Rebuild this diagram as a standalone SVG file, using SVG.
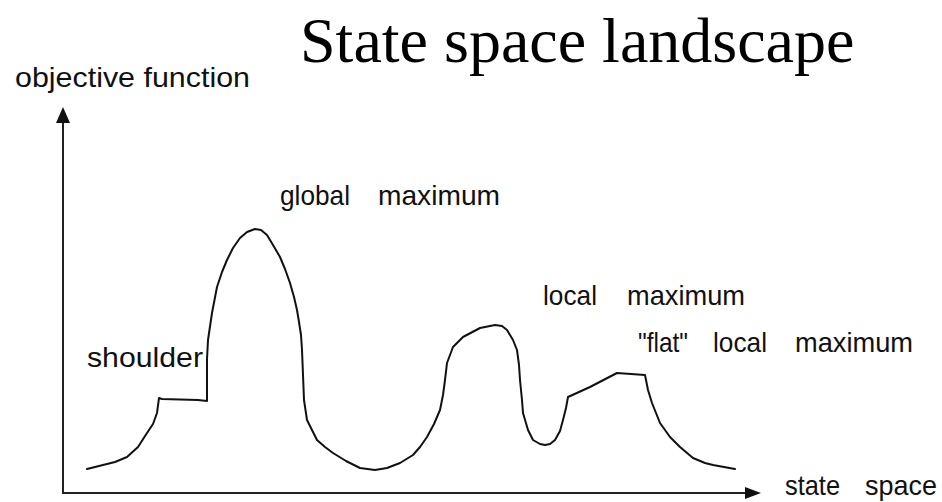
<svg xmlns="http://www.w3.org/2000/svg" width="942" height="502" viewBox="0 0 942 502">
<style>
.lbl{font-family:"Liberation Sans",Arial,sans-serif;font-size:28px;fill:#111}
.title{font-family:"Liberation Serif","Times New Roman",serif;font-size:64px;fill:#000}
.ax{stroke:#222;stroke-width:2;fill:none}
.curve{stroke:#111;stroke-width:2;fill:none;stroke-linejoin:round;stroke-linecap:round}
</style>
<rect width="942" height="502" fill="#fff"/>
<text id="title" class="title" x="300" y="62">State space landscape</text>
<g id="axes">
<line class="ax" x1="63" y1="122" x2="63" y2="493"/>
<polygon points="63,107 56,123 70,123" fill="#111"/>
<line class="ax" x1="62" y1="493" x2="747" y2="493"/>
<polygon points="761,493 745,487 745,499" fill="#111"/>
</g>
<g id="landscape">
<polyline class="curve" points="87,469 103,465 115,462 127,457 138,447 147,433 153,424 157,413 159,398 162,399 198,400 207,401 207,359 208,340 212,313 217,287 222,272 227,260 233,248 240,238 247,232 255,229 261,230 267,235 273,245 280,257 285,269 290,283 294,297 297,310 299,322 301,335 302,350 303,375 304,400 307,420 313,432 317,440 325,447 333,453 346,461 360,468 375,470 387,468 400,463 413,455 420,447 427,437 434,424 440,410 443,395 445,380 447,363 453,347 463,337 480,328 495,325 502,326 507,330 513,340 517,350 519,365 520,380 522,400 523,413 528,430 533,440 540,444 545,445 550,444 555,440 560,431 563,420 566,408 568,397 590,387 617,373 645,375 648,390 652,403 660,423 670,437 680,447 693,458 705,463 713,465 724,467 735,469"/>
</g>
<g id="labels">
<text id="lbl-objective" class="lbl" x="15" y="87" textLength="235" lengthAdjust="spacingAndGlyphs">objective function</text>
<g id="lbl-global">
<text class="lbl" x="280" y="205" textLength="70" lengthAdjust="spacingAndGlyphs">global</text>
<text class="lbl" x="378" y="205" textLength="122" lengthAdjust="spacingAndGlyphs">maximum</text>
</g>
<text id="lbl-shoulder" class="lbl" x="87" y="367" textLength="116" lengthAdjust="spacingAndGlyphs">shoulder</text>
<g id="lbl-local">
<text class="lbl" x="543" y="305" textLength="54" lengthAdjust="spacingAndGlyphs">local</text>
<text class="lbl" x="627" y="305" textLength="118" lengthAdjust="spacingAndGlyphs">maximum</text>
</g>
<g id="lbl-flat">
<text class="lbl" x="638" y="352" textLength="50" lengthAdjust="spacingAndGlyphs">"flat"</text>
<text class="lbl" x="713" y="352" textLength="54" lengthAdjust="spacingAndGlyphs">local</text>
<text class="lbl" x="795" y="352" textLength="118" lengthAdjust="spacingAndGlyphs">maximum</text>
</g>
<g id="lbl-state">
<text class="lbl" x="785" y="495" textLength="55" lengthAdjust="spacingAndGlyphs">state</text>
<text class="lbl" x="865" y="495" textLength="72" lengthAdjust="spacingAndGlyphs">space</text>
</g>
</g>
</svg>
